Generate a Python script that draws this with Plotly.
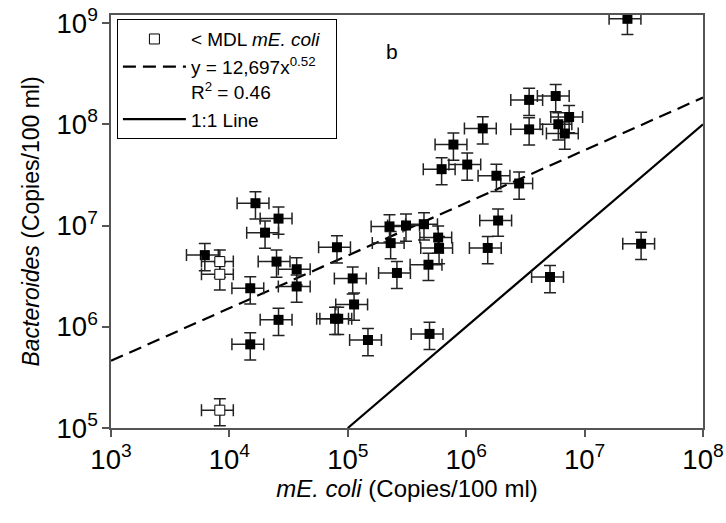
import numpy as np
import plotly.graph_objects as go

# Data
ecoli_detected = [1.66e4, 2.6e4, 2.0e4, 6.2e3, 2.5e4, 3.7e4, 1.5e4, 3.7e4, 2.6e4, 1.5e4,
                  3.4e6, 3.4e6, 1.38e6, 7.8e5, 6.2e5, 1.02e6, 1.8e6, 2.8e6, 1.86e6, 1.52e6,
                  2.25e5, 3.1e5, 4.4e5, 2.3e5, 5.8e5, 5.9e5, 8.1e4, 4.8e5, 2.6e5, 1.1e5,
                  1.13e5, 7.8e4, 8.3e4, 1.48e5, 4.9e5, 5.1e6, 2.3e7, 5.7e6, 7.4e6, 6.0e6,
                  6.8e6, 3.0e7]
bact_detected = [1.66e7, 1.17e7, 8.5e6, 5.1e6, 4.4e6, 3.7e6, 2.4e6, 2.5e6, 1.17e6, 6.7e5,
                 1.74e8, 8.9e7, 9.1e7, 6.3e7, 3.6e7, 4.0e7, 3.1e7, 2.6e7, 1.12e7, 6.0e6,
                 9.8e6, 1.0e7, 1.03e7, 6.7e6, 7.6e6, 6.0e6, 6.1e6, 4.1e6, 3.4e6, 3.0e6,
                 1.66e6, 1.2e6, 1.2e6, 7.4e5, 8.5e5, 3.1e6, 1.1e9, 1.9e8, 1.18e8, 1.0e8,
                 8.1e7, 6.6e6]
ecoli_mdl = [8.3e3, 8.3e3, 8.3e3]
bact_mdl = [4.4e6, 3.3e6, 1.5e5]

error_percent = 30

fit_coef = 12697
fit_exp = 0.52
fit_x = [1e3, 1e8]
one_to_one_x = [1e5, 1e8]

font_family = "Liberation Sans, Arial, sans-serif"

err_style = dict(type="percent", value=error_percent, color="#222222",
                 thickness=1.5, width=6)

fig = go.Figure()

fig.add_trace(go.Scatter(
    x=fit_x, y=[fit_coef * v ** fit_exp for v in fit_x], mode="lines",
    line=dict(color="black", width=2.2, dash="13px,7px"),
    name="y = 12,697x<sup>0.52</sup><br>R<sup>2</sup> = 0.46", legendrank=2))

fig.add_trace(go.Scatter(
    x=one_to_one_x, y=one_to_one_x, mode="lines",
    line=dict(color="black", width=2.2),
    name="1:1 Line", legendrank=3))

fig.add_trace(go.Scatter(
    x=ecoli_detected, y=bact_detected, mode="markers",
    marker=dict(symbol="square", size=10, color="black",
                line=dict(color="black", width=0)),
    error_x=err_style, error_y=err_style, showlegend=False, name="detected"))

fig.add_trace(go.Scatter(
    x=ecoli_mdl, y=bact_mdl, mode="markers",
    marker=dict(symbol="square", size=10, color="white",
                line=dict(color="black", width=1)),
    error_x=err_style, error_y=err_style,
    name="< MDL <i>mE. coli</i>&nbsp;&nbsp;", legendrank=1))

axis_common = dict(
    type="log", dtick=1, exponentformat="power", showgrid=False, zeroline=False,
    showline=True, linecolor="#555555", linewidth=1.5, mirror=True,
    ticks="outside", ticklen=7, tickwidth=1.5, tickcolor="#555555",
    tickfont=dict(family=font_family, size=22, color="black"),
    automargin=False,
)

fig.update_xaxes(range=[3, 8],
                 title=dict(text="<i>mE. coli</i> (Copies/100 ml)",
                            font=dict(family=font_family, size=24, color="black"),
                            standoff=0),
                 **axis_common)
fig.update_yaxes(range=[5, 9.079],
                 title=dict(text="<i>Bacteroides</i> (Copies/100 ml)",
                            font=dict(family=font_family, size=23, color="black"),
                            standoff=10),
                 **axis_common)

fig.add_annotation(text="b", x=5.37, y=8.72, xref="x", yref="y",
                   showarrow=False, font=dict(family=font_family, size=21, color="black"))

fig.update_layout(
    width=726, height=523,
    margin=dict(l=111, r=23, t=15, b=95),
    plot_bgcolor="white", paper_bgcolor="white",
    font=dict(family=font_family, color="black"),
    legend=dict(x=0.01, y=0.99, xanchor="left", yanchor="top",
                bgcolor="white", bordercolor="black", borderwidth=1,
                font=dict(family=font_family, size=19, color="black"),
                valign="top", itemwidth=63, tracegroupgap=0),
)

fig.write_html("out.html")
